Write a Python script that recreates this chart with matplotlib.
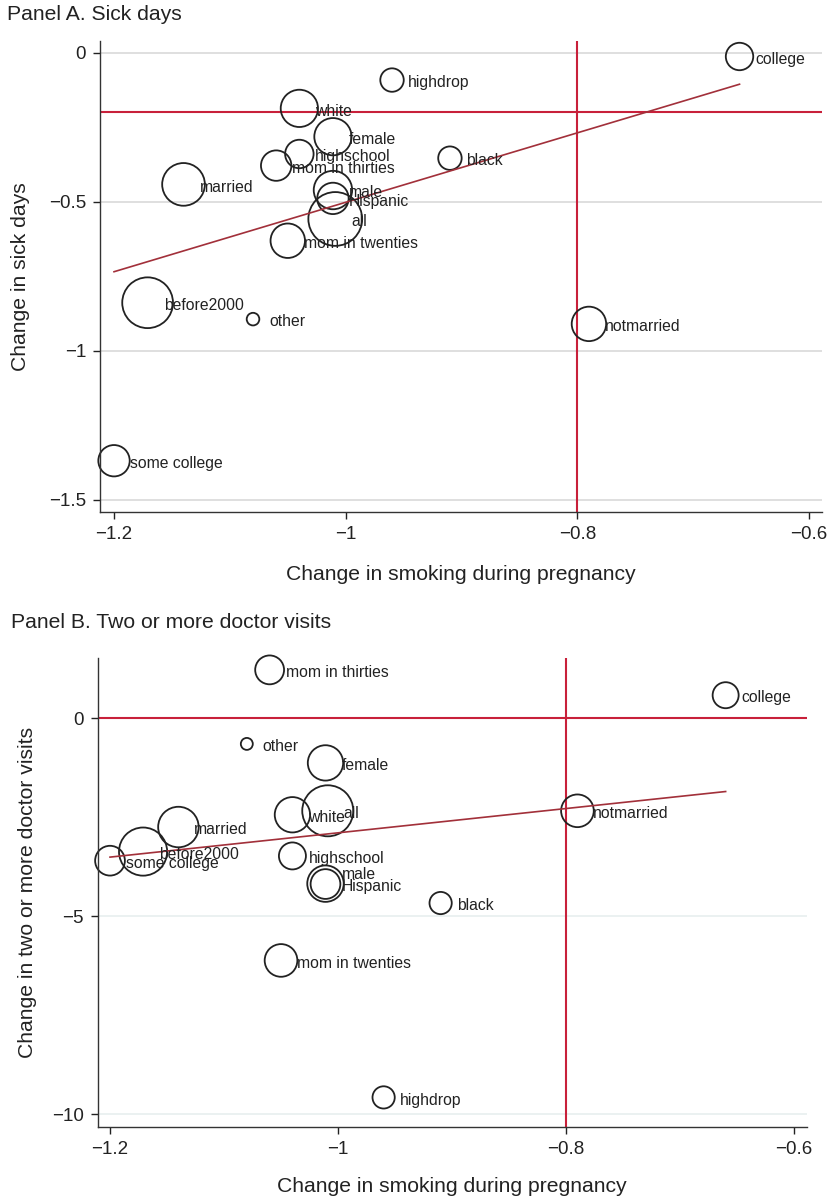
import numpy as np
import matplotlib
matplotlib.use('Agg')
import matplotlib.pyplot as plt
from matplotlib.ticker import FixedLocator, FuncFormatter

plt.rcParams['font.family'] = ['Liberation Sans', 'DejaVu Sans']

groups = ['all', 'male', 'female', 'white', 'black', 'Hispanic', 'other',
          'married', 'notmarried', 'highdrop', 'highschool', 'some college',
          'college', 'mom in twenties', 'mom in thirties', 'before2000']

# relative group size, sets the circle area
weights = [100, 51, 48, 48, 19, 34, 5.5, 63, 41, 19, 28, 34, 26, 41, 32, 89]

# change in smoking during pregnancy (same for both outcomes)
smoking_change = [-1.009, -1.011, -1.011, -1.040, -0.910, -1.011, -1.080,
                  -1.140, -0.790, -0.960, -1.040, -1.200, -0.660, -1.050,
                  -1.060, -1.171]

sick_days = [-0.558, -0.461, -0.282, -0.187, -0.354, -0.489, -0.894,
             -0.442, -0.910, -0.092, -0.340, -1.369, -0.013, -0.631,
             -0.379, -0.839]

doctor_visits = [-2.34, -4.18, -1.13, -2.44, -4.67, -4.19, -0.65,
                 -2.75, -2.34, -9.58, -3.48, -3.60, 0.58, -6.12,
                 1.22, -3.37]

# fitted line end points
fit_x = [-1.20, -0.66]
fit_sick = [-0.735, -0.106]
fit_doctor = [-3.51, -1.853]

x_ticks = [-1.2, -1.0, -0.8, -0.6]
sick_ticks = [0, -0.5, -1.0, -1.5]
doctor_ticks = [0, -5, -10]

REF_RED = '#c8203a'
FIT_RED = '#a2303a'
INK = '#222222'


def tick_fmt(v, pos):
    return f'{v:g}'.replace('-', '\u2212')


def draw_panel(ax, yvals, fit_y, hline, ylim, yticks, grid_color, scale,
               nudges, xlabelpad):
    ax.set_xlim(-1.2121, -0.5888)
    ax.set_ylim(*ylim)

    for y in yticks:
        ax.axhline(y, color=grid_color, lw=1.1, zorder=0)
    ax.axhline(hline, color=REF_RED, lw=1.5, zorder=1)
    ax.axvline(-0.8, color=REF_RED, lw=1.5, zorder=1)

    sizes = [w * 15 * scale for w in weights]
    ax.scatter(smoking_change, yvals, s=sizes, facecolors='none',
               edgecolors=INK, linewidths=1.3, zorder=2, clip_on=False)
    ax.plot(fit_x, fit_y, color=FIT_RED, lw=1.2, zorder=3)

    for name, x, y in zip(groups, smoking_change, yvals):
        dx, dy = nudges.get(name, (0, 0))
        ax.annotate(name, (x, y), xytext=(11.5 + dx, -2 + dy),
                    textcoords='offset points', ha='left', va='center',
                    fontsize=11.3, color=INK, zorder=4)

    ax.xaxis.set_major_locator(FixedLocator(x_ticks))
    ax.yaxis.set_major_locator(FixedLocator(yticks))
    ax.xaxis.set_major_formatter(FuncFormatter(tick_fmt))
    ax.yaxis.set_major_formatter(FuncFormatter(tick_fmt))
    ax.tick_params(direction='out', length=5, width=1, pad=5,
                   labelsize=13.5, colors=INK)
    for side in ['top', 'right']:
        ax.spines[side].set_visible(False)
    for side in ['left', 'bottom']:
        ax.spines[side].set_color('#333333')
        ax.spines[side].set_linewidth(1)
    ax.set_xlabel('Change in smoking during pregnancy', fontsize=15.2,
                  color=INK, labelpad=xlabelpad)


fig = plt.figure(figsize=(8.33, 11.99), dpi=100)
W, H = 833, 1199

ax_a = fig.add_axes([100 / W, 1 - 512 / H, 722 / W, 471 / H])
draw_panel(ax_a, sick_days, fit_sick, -0.2, (-1.541, 0.039), sick_ticks,
           '#d6d6d6', 1.0, {}, 16)
ax_a.set_ylabel('Change in sick days', fontsize=15.2, color=INK, labelpad=13.5)

ax_b = fig.add_axes([97.7 / W, 1 - 1126.7 / H, 709 / W, 468.7 / H])
draw_panel(ax_b, doctor_visits, fit_doctor, 0, (-10.32, 1.52), doctor_ticks,
           '#e6eeee', 0.9, {'male': (0, 8.6)}, 14)
ax_b.set_xlim(-1.2108, -0.5889)
ax_b.set_ylabel('Change in two or more doctor visits', fontsize=15.2,
                color=INK, labelpad=10.5)

fig.text(7 / W, 1 - 15 / H, 'Panel A. Sick days', fontsize=15.2,
         color=INK, va='center', ha='left')
fig.text(11 / W, 1 - 622 / H, 'Panel B. Two or more doctor visits',
         fontsize=15.2, color=INK, va='center', ha='left')

fig.savefig('out.png', dpi=100)
